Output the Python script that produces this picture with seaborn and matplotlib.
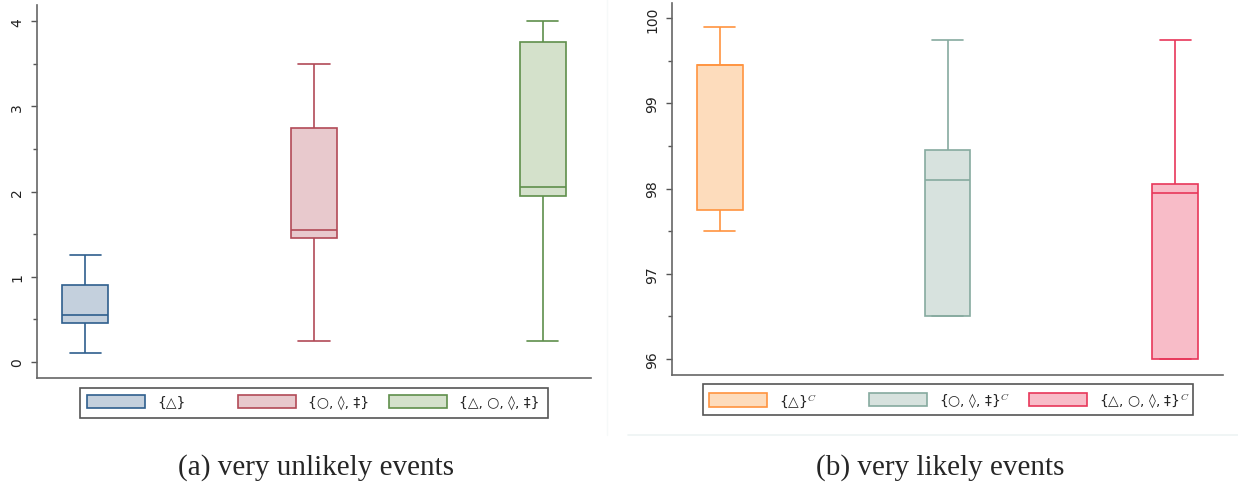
import numpy as np
import pandas as pd
import matplotlib
matplotlib.use("Agg")
import matplotlib.pyplot as plt
from matplotlib.patches import Patch, Rectangle
from matplotlib.lines import Line2D
import seaborn as sns

# ---------------- data ----------------
left_categories = ["{△}", "{○, ◊, ‡}", "{△, ○, ◊, ‡}"]
left_min = [0.10, 0.25, 0.25]
left_q1 = [0.45, 1.45, 1.95]
left_med = [0.55, 1.55, 2.05]
left_q3 = [0.90, 2.75, 3.75]
left_max = [1.25, 3.50, 4.00]
left_fill = ["#c4d0dd", "#e8c9cd", "#d4e1cb"]
left_edge = ["#2f5f8d", "#b24a57", "#5f8f4b"]
left_caption = "(a) very unlikely events"
left_yticks = [0, 1, 2, 3, 4]

right_categories = ["{△}$^{C}$", "{○, ◊, ‡}$^{C}$", "{△, ○, ◊, ‡}$^{C}$"]
right_min = [97.50, 96.50, 96.00]
right_q1 = [97.75, 96.50, 96.00]
right_med = [99.45, 98.10, 97.95]
right_q3 = [99.45, 98.45, 98.05]
right_max = [99.90, 99.75, 99.75]
right_fill = ["#fddcbc", "#d7e2de", "#f8bcc8"]
right_edge = ["#ff9440", "#86aa9f", "#e8375a"]
right_caption = "(b) very likely events"
right_yticks = [96, 97, 98, 99, 100]

sns.set_style("white")
plt.rcParams["font.family"] = ["DejaVu Sans"]
plt.rcParams["mathtext.fontset"] = "cm"

W, H = 1238, 489
fig = plt.figure(figsize=(W / 100, H / 100), dpi=100)
fig.patch.set_facecolor("white")


def px(x0, y0, x1, y1):
    return [x0 / W, 1 - y1 / H, (x1 - x0) / W, (y1 - y0) / H]


def make_df(cats, mn, q1, md, q3, mx):
    rows = []
    for c, a, b, m, d, e in zip(cats, mn, q1, md, q3, mx):
        for v in (a, b, m, d, e):
            rows.append({"group": c, "value": v})
    return pd.DataFrame(rows)


def panel(rect, cats, mn, q1, md, q3, mx, fills, edges, yticks, ylim):
    ax = fig.add_axes(rect)
    df = make_df(cats, mn, q1, md, q3, mx)
    for c, f, e in zip(cats, fills, edges):
        sns.boxplot(data=df[df["group"] == c], x="group", y="value", order=cats,
                    color=f, linecolor=e, saturation=1, width=0.2,
                    whis=(0, 100), linewidth=1.2, ax=ax, showfliers=False)
    ax.set_xlim(-0.21, 2.21)
    ax.set_ylim(*ylim)
    ax.set_xlabel("")
    ax.set_ylabel("")
    ax.set_xticks([])
    ax.set_yticks(yticks)
    ax.set_yticks([t + 0.5 for t in yticks[:-1]], minor=True)
    ax.set_yticklabels([str(t) for t in yticks])
    ax.tick_params(axis="y", which="major", length=4.3, width=1.0, color="#555555",
                   pad=5.0, labelsize=10, labelrotation=90, left=True, labelcolor="#222222")
    ax.tick_params(axis="y", which="minor", length=2.8, width=1.0, color="#555555", left=True)
    for lab in ax.get_yticklabels():
        lab.set_va("center")
    for s in ("top", "right"):
        ax.spines[s].set_visible(False)
    for s in ("left", "bottom"):
        ax.spines[s].set_color("#666666")
        ax.spines[s].set_linewidth(1.2)
    ax.set_facecolor("white")
    # adjust cap widths to match reference
    for ln in ax.lines:
        xd = np.asarray(ln.get_xdata(), dtype=float)
        yd = np.asarray(ln.get_ydata(), dtype=float)
        if len(xd) == 2 and yd[0] == yd[1] and xd[0] != xd[1]:
            c = xd.mean()
            w = abs(xd[1] - xd[0])
            if w < 0.19:
                ln.set_xdata([c - 0.068, c + 0.068])
    return ax


ax1 = panel(px(37, 6, 591, 379), left_categories, left_min, left_q1, left_med,
            left_q3, left_max, left_fill, left_edge, left_yticks, (-0.19, 4.19))
ax2 = panel(px(672, 4, 1223, 376), right_categories, right_min, right_q1, right_med,
            right_q3, right_max, right_fill, right_edge, right_yticks, (95.81, 100.18))


def legend_row(frame, xs, yc, labels, fills, edges):
    x0, y0, x1, y1 = frame
    fig.add_artist(Rectangle((x0 / W, 1 - y1 / H), (x1 - x0) / W, (y1 - y0) / H,
                             transform=fig.transFigure, facecolor="white",
                             edgecolor="#555555", linewidth=1.2, zorder=1))
    for x, lab, f, e in zip(xs, labels, fills, edges):
        h = Patch(facecolor=f, edgecolor=e, linewidth=1.2)
        fig.legend(handles=[h], labels=[lab], loc="center left",
                   bbox_to_anchor=(x / W, 1 - yc / H), frameon=False,
                   borderpad=0, borderaxespad=0, fontsize=10,
                   handlelength=4.2, handleheight=1.15, handletextpad=0.85)


legend_row((80, 389, 548, 419), [87, 238, 389], 403, left_categories, left_fill, left_edge)
legend_row((703, 385, 1193, 416), [709, 869, 1029], 401, right_categories, right_fill, right_edge)

# faint panel border of the right sub-figure
fig.add_artist(Line2D([607 / W, 607 / W], [1 - 436 / H, 1.0], transform=fig.transFigure,
                      color="#f6f9f9", linewidth=1))
fig.add_artist(Line2D([628 / W, 1.0], [1 - 436 / H, 1 - 436 / H], transform=fig.transFigure,
                      color="#eef4f4", linewidth=1.2))

fig.text(316 / W, 1 - 468 / H, left_caption, ha="center", va="center",
         family="Liberation Serif", fontsize=21)
fig.text(940 / W, 1 - 468 / H, right_caption, ha="center", va="center",
         family="Liberation Serif", fontsize=21)

fig.savefig("out.png", dpi=100, facecolor="white")
